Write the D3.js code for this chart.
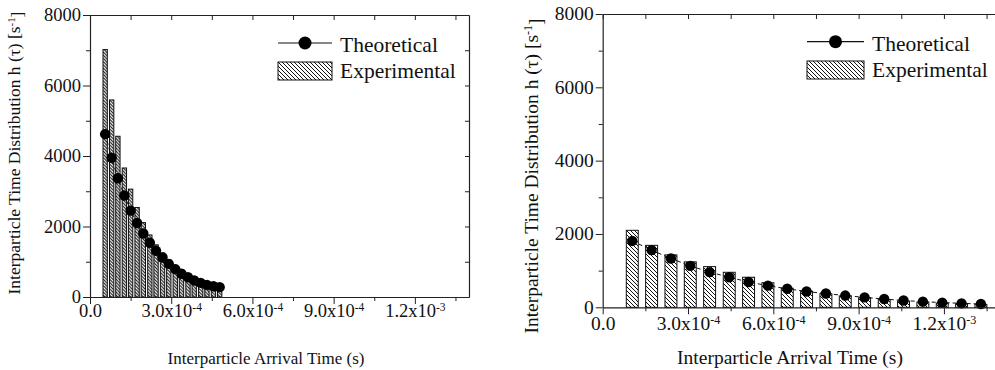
<!DOCTYPE html>
<html>
<head>
<meta charset="utf-8">
<script src="https://cdn.jsdelivr.net/npm/d3@7"></script>
<style>
  html, body { margin: 0; padding: 0; background: #fff; }
  svg { display: block; }
  text { font-family: "Liberation Serif", "Times New Roman", serif; fill: #111; }
</style>
</head>
<body>
<svg id="chart" width="995" height="370"></svg>
<script>
// ---------- DATA ----------
// Left panel (short bins)
const leftTime = [5.6e-5, 8.0e-5, 1.03e-4, 1.27e-4, 1.50e-4, 1.74e-4, 1.97e-4, 2.21e-4, 2.44e-4, 2.68e-4,
                  2.91e-4, 3.15e-4, 3.38e-4, 3.62e-4, 3.85e-4, 4.09e-4, 4.32e-4, 4.56e-4, 4.79e-4];
const leftExperimental = [7020, 5590, 4560, 3660, 3060, 2540, 2110, 1760, 1480, 1250,
                          1060, 900, 770, 650, 550, 470, 400, 340, 290];
const leftTheoretical = [4620, 3950, 3370, 2880, 2450, 2100, 1800, 1540, 1310, 1120,
                         940, 790, 660, 560, 470, 400, 345, 305, 280];
// Right panel (long bins)
const rightTime = [1.04e-4, 1.72e-4, 2.40e-4, 3.08e-4, 3.76e-4, 4.45e-4, 5.13e-4, 5.81e-4, 6.49e-4, 7.17e-4,
                   7.85e-4, 8.53e-4, 9.21e-4, 9.90e-4, 1.058e-3, 1.126e-3, 1.194e-3, 1.262e-3, 1.330e-3];
const rightExperimental = [2100, 1690, 1430, 1240, 1110, 955, 820, 670, 520, 440,
                           370, 310, 260, 210, 170, 140, 115, 95, 80];
const rightTheoretical = [1810, 1560, 1330, 1130, 960, 820, 690, 590, 505, 430,
                          375, 320, 270, 225, 185, 155, 128, 108, 90];

// Ticks
const xMajorTicks = [0, 3e-4, 6e-4, 9e-4, 1.2e-3];
const xTickMantissa = ["0.0", "3.0x10", "6.0x10", "9.0x10", "1.2x10"];
const xTickExponent = ["", "-4", "-4", "-4", "-3"];
const xMinorTicks = [1.5e-4, 4.5e-4, 7.5e-4, 1.05e-3, 1.35e-3];
const yMajorTicks = [0, 2000, 4000, 6000, 8000];
const yMinorTicks = [1000, 3000, 5000, 7000];
const xTitle = "Interparticle Arrival Time (s)";
const yTitle = "Interparticle Time Distribution h (\u03C4) [s";
const seriesNames = ["Theoretical", "Experimental"];

// ---------- DRAW ----------
const svg = d3.select("#chart");
const defs = svg.append("defs");

function hatch(id, size) {
  const p = defs.append("pattern")
    .attr("id", id).attr("patternUnits", "userSpaceOnUse")
    .attr("width", size).attr("height", size);
  p.append("rect").attr("width", size).attr("height", size).attr("fill", "#fff");
  p.append("path")
    .attr("d", `M-1,-1 L${size+1},${size+1} M${-1},${size-1} L1,${size+1} M${size-1},-1 L${size+1},1`)
    .attr("stroke", "#111").attr("stroke-width", 1).attr("fill", "none");
}
hatch("hatchL", 3.2);
hatch("hatchR", 4);

function panel(cfg) {
  const x = d3.scaleLinear().domain([0, 1.4e-3]).range([cfg.left, cfg.right]);
  const y = d3.scaleLinear().domain([0, 8000]).range([cfg.bottom, cfg.top]);
  const g = svg.append("g");
  const axisColor = "#222";

  // bars
  g.append("g").selectAll("rect").data(cfg.time).join("rect")
    .attr("x", (d) => x(d - cfg.binWidth / 2))
    .attr("width", x(cfg.binWidth) - x(0))
    .attr("y", (d, i) => y(cfg.exp[i]))
    .attr("height", (d, i) => y(0) - y(cfg.exp[i]))
    .attr("fill", `url(#${cfg.hatch})`)
    .attr("stroke", "#111").attr("stroke-width", 1);

  // theoretical line
  const line = d3.line().x((d) => x(d)).y((d, i) => y(cfg.theo[i]));
  g.append("path").datum(cfg.time)
    .attr("d", line).attr("fill", "none")
    .attr("stroke", "#111").attr("stroke-width", 1).attr("stroke-dasharray", "4,3");
  g.append("g").selectAll("circle").data(cfg.time).join("circle")
    .attr("cx", (d) => x(d)).attr("cy", (d, i) => y(cfg.theo[i]))
    .attr("r", 5.2).attr("fill", "#000");

  // axes
  function styleAxis(sel) {
    sel.select(".domain").attr("stroke", axisColor).attr("stroke-width", 1.2);
    sel.selectAll(".tick line").attr("stroke", axisColor).attr("stroke-width", 1);
  }
  // bottom
  const bx = g.append("g").attr("transform", `translate(0,${cfg.bottom})`)
    .call(d3.axisBottom(x).tickValues(xMajorTicks).tickSize(7).tickSizeOuter(0));
  styleAxis(bx);
  bx.selectAll(".tick text").each(function (d, i) {
    const t = d3.select(this);
    t.text(xTickMantissa[i]).attr("y", cfg.xLabelOffset).attr("dy", 0)
      .style("font-size", cfg.tickFont + "px").attr("font-family", null).attr("fill", "#111");
    if (xTickExponent[i]) {
      t.append("tspan").attr("dy", "-0.55em").style("font-size", (cfg.tickFont * 0.62) + "px")
        .text(xTickExponent[i]);
    }
  });
  const bxm = g.append("g").attr("transform", `translate(0,${cfg.bottom})`)
    .call(d3.axisBottom(x).tickValues(xMinorTicks).tickSize(4).tickSizeOuter(0).tickFormat(""));
  styleAxis(bxm); bxm.select(".domain").remove();
  // top (inward)
  const tx = g.append("g").attr("transform", `translate(0,${cfg.top})`)
    .call(d3.axisBottom(x).tickValues(xMajorTicks.concat(xMinorTicks)).tickSize(5).tickSizeOuter(0).tickFormat(""));
  styleAxis(tx);
  // left
  const ly = g.append("g").attr("transform", `translate(${cfg.left},0)`)
    .call(d3.axisLeft(y).tickValues(yMajorTicks).tickSize(7).tickSizeOuter(0).tickFormat(d3.format("d")));
  styleAxis(ly);
  ly.selectAll(".tick text").attr("x", -9).attr("dy", "0.3em")
    .style("font-size", cfg.yTickFont + "px").attr("font-family", null).attr("fill", "#111");
  const lym = g.append("g").attr("transform", `translate(${cfg.left},0)`)
    .call(d3.axisLeft(y).tickValues(yMinorTicks).tickSize(4).tickSizeOuter(0).tickFormat(""));
  styleAxis(lym); lym.select(".domain").remove();
  // right (inward)
  const ry = g.append("g").attr("transform", `translate(${cfg.right},0)`)
    .call(d3.axisLeft(y).tickValues(yMajorTicks.concat(yMinorTicks)).tickSize(4).tickSizeOuter(0).tickFormat(""));
  styleAxis(ry);

  // titles
  g.append("text").attr("x", cfg.xTitleX).attr("y", cfg.xTitleY)
    .attr("text-anchor", "middle").style("font-size", cfg.titleFont + "px").text(xTitle);
  const yt = g.append("text")
    .attr("transform", `translate(${cfg.yTitleX},${cfg.yTitleY}) rotate(-90)`)
    .attr("text-anchor", "middle").style("font-size", cfg.yTitleFont + "px");
  yt.append("tspan").text(yTitle);
  yt.append("tspan").attr("dy", "-0.5em").style("font-size", (cfg.yTitleFont * 0.62) + "px").text("-1");
  yt.append("tspan").attr("dy", "0.5em").text("]");

  // legend
  const L = cfg.legend;
  g.append("line").attr("x1", L.x).attr("x2", L.x + L.w).attr("y1", L.y1).attr("y2", L.y1)
    .attr("stroke", "#111").attr("stroke-width", 1.2);
  g.append("circle").attr("cx", L.x + L.w / 2).attr("cy", L.y1).attr("r", 6.5).attr("fill", "#000");
  g.append("text").attr("x", L.x + L.w + 8).attr("y", L.y1 + 9)
    .style("font-size", L.font + "px").text(seriesNames[0]);
  g.append("rect").attr("x", L.x).attr("y", L.y2 - 9).attr("width", L.w).attr("height", 18)
    .attr("fill", "url(#hatchR)").attr("stroke", "#111").attr("stroke-width", 1);
  g.append("text").attr("x", L.x + L.w + 8).attr("y", L.y2 + 7)
    .style("font-size", L.font + "px").text(seriesNames[1]);
}

panel({
  left: 90, right: 469, top: 15, bottom: 297,
  time: leftTime, exp: leftExperimental, theo: leftTheoretical,
  binWidth: 1.6e-5, hatch: "hatchL",
  tickFont: 18.5, yTickFont: 18.5, xLabelOffset: 20,
  titleFont: 17, xTitleX: 266, xTitleY: 364,
  yTitleFont: 17.5, yTitleX: 20, yTitleY: 153,
  legend: { x: 278, w: 54, y1: 43, y2: 71, font: 21.5 }
});

panel({
  left: 602.7, right: 1000.8, top: 14, bottom: 307.3,
  time: rightTime, exp: rightExperimental, theo: rightTheoretical,
  binWidth: 4.2e-5, hatch: "hatchR",
  tickFont: 19.5, yTickFont: 19.5, xLabelOffset: 23,
  titleFont: 19.5, xTitleX: 790, xTitleY: 364,
  yTitleFont: 19.5, yTitleX: 538, yTitleY: 176,
  legend: { x: 807, w: 57, y1: 41.7, y2: 70, font: 21.5 }
});
</script>
</body>
</html>
